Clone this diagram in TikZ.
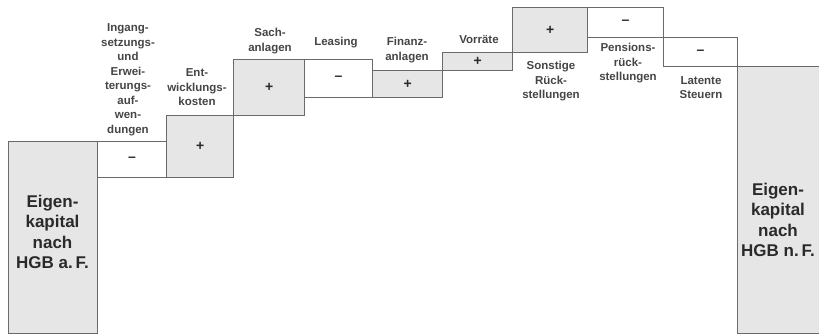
\documentclass[tikz,border=0pt]{standalone}
\usepackage{fontspec}
\setmainfont{Liberation Sans}
\definecolor{edgegray}{HTML}{6A6A6A}
\definecolor{boxgray}{HTML}{E6E6E6}
\definecolor{labelgray}{HTML}{454545}
\definecolor{textdark}{HTML}{2A2A2A}
\begin{document}
\begin{tikzpicture}[x=1pt,y=1pt,
  bar/.style={draw=edgegray, line width=1.2pt, inner sep=0pt, anchor=north west,
    fill=white, text=textdark, font=\fontsize{14}{16}\bfseries\selectfont},
  posbar/.style={bar, fill=boxgray},
  ekbar/.style={bar, fill=boxgray},
  lbl/.style={inner sep=0pt, align=center, text=labelgray,
    font=\fontsize{11.5}{14.5}\bfseries\selectfont},
  eklbl/.style={inner sep=0pt, align=center, text=textdark,
    font=\fontsize{17}{20.3}\bfseries\selectfont}]
\useasboundingbox (0,0) rectangle (819,-334);
\clip (0,0) rectangle (819,-334);
% boxes
\node[ekbar,  minimum width=89pt, minimum height=192pt] (A) at (8,-141) {};
\node[bar,    minimum width=69pt, minimum height=36pt]  (B) at (97,-141) {\raisebox{-2pt}{–}};
\node[posbar, minimum width=67pt, minimum height=62pt]  (C) at (166,-115) {\raisebox{-1pt}{+}};
\node[posbar, minimum width=71pt, minimum height=56pt]  (D) at (233,-59) {\raisebox{-1pt}{+}};
\node[bar,    minimum width=68pt, minimum height=38pt]  (E) at (304,-59) {\raisebox{-1pt}{–}};
\node[posbar, minimum width=70pt, minimum height=27pt]  (F) at (372,-70) {\raisebox{-1pt}{+}};
\node[posbar, minimum width=70pt, minimum height=18pt]  (G) at (442,-52) {\raisebox{-1pt}{+}};
\node[posbar, minimum width=75pt, minimum height=45pt]  (H) at (512,-7) {\raisebox{-1pt}{+}};
\node[bar,    minimum width=76pt, minimum height=30pt]  (I) at (587,-7) {\raisebox{-1pt}{–}};
\node[bar,    minimum width=74pt, minimum height=29pt]  (J) at (663,-37) {\raisebox{-1pt}{–}};
\node[ekbar,  minimum width=100pt, minimum height=267pt] (K) at (737,-66) {};
\draw[edgegray, line width=1.2pt] (A.south east) -- (K.south west);
% labels above
\node[lbl, anchor=south] (lB) at (128,-136) {Ingang-\\setzungs-\\und\\Erwei-\\terungs-\\auf-\\wen-\\dungen};
\node[lbl, anchor=south] (lC) at (197,-106) {Ent-\\wicklungs-\\kosten};
\node[lbl, anchor=south] (lD) at (270,-54) {Sach-\\anlagen};
\node[lbl, anchor=south] (lE) at (336,-48) {Leasing};
\node[lbl, anchor=south] (lF) at (407,-63) {Finanz-\\anlagen};
\node[lbl, anchor=south] (lG) at (479,-44) {Vorräte};
% labels below
\node[lbl, anchor=north] (lH) at (551,-61) {Sonstige\\Rück-\\stellungen};
\node[lbl, anchor=north] (lI) at (628,-43) {Pensions-\\rück-\\stellungen};
\node[lbl, anchor=north] (lJ) at (701,-76) {Latente\\Steuern};
% Eigenkapital
\node[eklbl] (tA) at (52.5,-232) {Eigen-\\kapital\\nach\\HGB a.\,F.};
\node[eklbl] (tK) at (778,-220) {Eigen-\\kapital\\nach\\HGB n.\,F.};
\end{tikzpicture}
\end{document}
